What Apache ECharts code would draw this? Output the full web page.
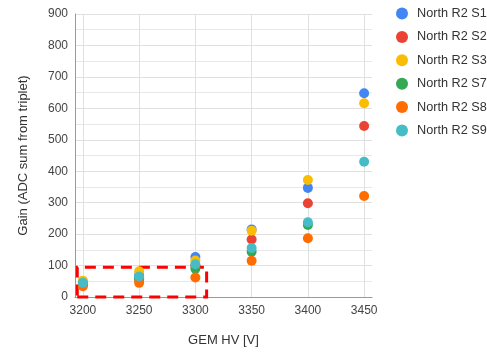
<!DOCTYPE html>
<html>
<head>
<meta charset="utf-8">
<script src="https://cdn.jsdelivr.net/npm/echarts@6/dist/echarts.min.js"></script>
<style>
  html,body{margin:0;padding:0;background:#fff;}
  #chart{width:487px;height:354px;}
</style>
</head>
<body>
<div id="chart"></div>
<script>
// GEM HV [V]
var voltages = [3200, 3250, 3300, 3350, 3400, 3450];
var seriesNames = ['North R2 S1', 'North R2 S2', 'North R2 S3', 'North R2 S7', 'North R2 S8', 'North R2 S9'];
var s1 = [45, 70, 127, 215, 347, 648];
var s2 = [40, 55, 100, 183, 298, 544];
var s3 = [52, 82, 116, 211, 372, 616];
var s7 = [42, 60, 90, 144, 229, null];
var s8 = [34, 45, 62, 115, 187, 321];
var s9 = [45, 65, 104, 156, 238, 430];
var colors = ['#4285F4', '#EA4335', '#FBBC04', '#34A853', '#FF6D01', '#46BDC6'];
// dashed highlight box around the low-voltage points [x0, y0, x1, y1]
var boxArea = [3195, 0, 3310, 95];

var allValues = [s1, s2, s3, s7, s8, s9];

var myChart = echarts.init(document.getElementById('chart'));

var series = seriesNames.map(function (name, i) {
  return {
    name: name,
    type: 'scatter',
    symbolSize: 10,
    itemStyle: { color: colors[i], opacity: 1 },
    data: voltages.map(function (v, j) { return [v, allValues[i][j]]; })
  };
});
series.push({
  type: 'scatter',
  data: [],
  silent: true,
  markArea: {
    silent: true,
    itemStyle: {
      color: 'rgba(0,0,0,0)',
      borderColor: '#ff0000',
      borderWidth: 3,
      borderType: [11, 7]
    },
    data: [[{ coord: [boxArea[0], boxArea[1]] }, { coord: [boxArea[2], boxArea[3]] }]]
  }
});

myChart.setOption({
  animation: false,
  color: colors,
  textStyle: { fontFamily: 'Liberation Sans, Arial, sans-serif' },
  legend: {
    orient: 'vertical',
    left: 391,
    top: 2,
    icon: 'circle',
    itemWidth: 20,
    itemHeight: 12,
    itemGap: 10.4,
    textStyle: { fontSize: 12.7, color: '#333' },
    data: seriesNames
  },
  grid: {
    left: 75,
    right: 115,
    top: 14,
    bottom: 57
  },
  xAxis: {
    type: 'value',
    min: 3193,
    max: 3457,
    name: 'GEM HV [V]',
    nameLocation: 'middle',
    nameGap: 37,
    nameTextStyle: { fontSize: 13, color: '#333' },
    axisLine: { show: true, onZero: false, lineStyle: { color: '#999', width: 1 } },
    axisTick: { show: false },
    axisLabel: {
      fontSize: 12,
      color: '#444',
      margin: 8,
      showMinLabel: false,
      showMaxLabel: false,
      formatter: function (v) { return v % 50 === 0 ? String(v) : ''; }
    },
    splitLine: { show: true, showMinLine: false, showMaxLine: false, lineStyle: { color: '#e0e0e0' } }
  },
  yAxis: {
    type: 'value',
    min: 0,
    max: 900,
    interval: 100,
    name: 'Gain (ADC sum from triplet)',
    nameLocation: 'middle',
    nameGap: 45,
    nameTextStyle: { fontSize: 13, color: '#333' },
    axisLine: { show: true, lineStyle: { color: '#999', width: 1 } },
    axisTick: { show: false },
    axisLabel: { fontSize: 12, color: '#444', margin: 7 },
    splitLine: { show: true, lineStyle: { color: '#e0e0e0' } },
    minorTick: { show: false, splitNumber: 2 },
    minorSplitLine: { show: true, lineStyle: { color: '#e8e8e8' } }
  },
  series: series
});
</script>
</body>
</html>
